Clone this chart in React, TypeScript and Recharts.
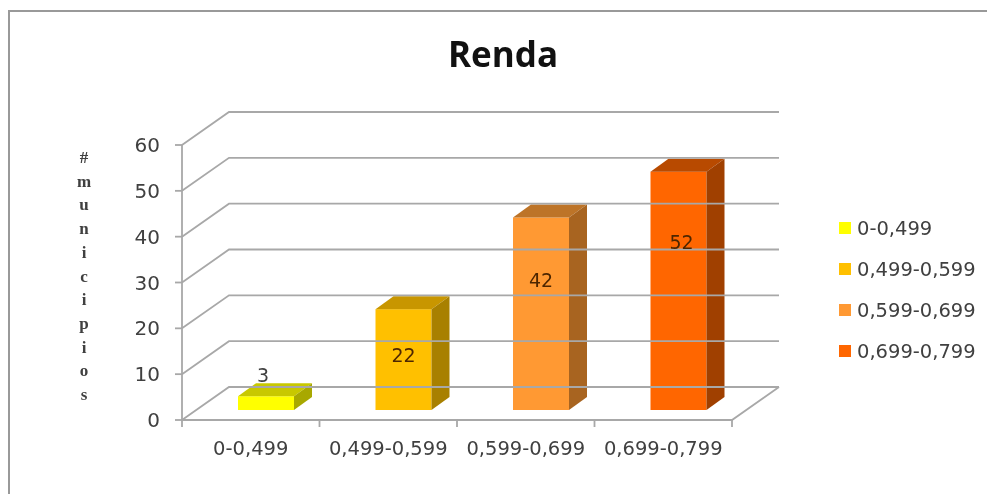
import React from 'react'
import { BarChart, Bar, XAxis, YAxis, ReferenceLine, LabelList } from 'recharts'

const categories = ['0-0,499', '0,499-0,599', '0,599-0,699', '0,699-0,799']
const counts = [3, 22, 42, 52]
const yTicks = [0, 10, 20, 30, 40, 50, 60]
const frontColors = ['#ffff00', '#ffc000', '#ff9933', '#ff6600']
const topColors = ['#c8c800', '#c89600', '#bd7428', '#b84a00']
const sideColors = ['#a8a800', '#a88000', '#a86420', '#a04000']
const yTitle = ['#', 'm', 'u', 'n', 'i', 'c', 'i', 'p', 'i', 'o', 's']

const data = categories.map((name, i) => ({ name, value: counts[i] }))

const GRID = '#a8a8a8'
const TEXT = '#404040'
const FONT = '"DejaVu Sans", sans-serif'
const WALL_DX = 47
const WALL_DY = 33
const BAND = 137.5
// the outer value labels sit a few pixels off the bar centres in the original
const LABEL_NUDGE = [-3, 0, 0, 3]

function BarShape3D(props: any) {
  const { x, y, width, height, index } = props
  const dx = 15
  const dy = -10
  const l = x + dx
  const r = l + width
  const t = y + dy
  const b = t + height
  const ox = 18
  const oy = 13
  return (
    <g>
      <rect x={l} y={t} width={width} height={height} fill={frontColors[index]} />
      <polygon points={`${l},${t} ${l + ox},${t - oy} ${r + ox},${t - oy} ${r},${t}`} fill={topColors[index]} />
      <polygon points={`${r},${t} ${r + ox},${t - oy} ${r + ox},${b - oy} ${r},${b}`} fill={sideColors[index]} />
    </g>
  )
}

function WallLine(props: any) {
  const { x1, y1, x2, y2 } = props
  const pts = `${x1},${y1} ${x1 + WALL_DX},${y1 - WALL_DY} ${x2 + WALL_DX},${y2 - WALL_DY}`
  return (
    <g>
      <polyline points={pts} fill="none" stroke={GRID} strokeWidth={1.8} />
      {y1 > 400 && (
        <polyline points={`${x1},${y1} ${x2},${y2} ${x2 + WALL_DX},${y2 - WALL_DY}`} fill="none" stroke={GRID} strokeWidth={1.8} />
      )}
    </g>
  )
}

function CategoryTick(props: any) {
  const { x, y, payload, index } = props
  return (
    <g>
      <line x1={x - BAND / 2} x2={x - BAND / 2} y1={y - 8} y2={y} stroke={GRID} strokeWidth={1.8} />
      {index === categories.length - 1 && (
        <line x1={x + BAND / 2} x2={x + BAND / 2} y1={y - 8} y2={y} stroke={GRID} strokeWidth={1.8} />
      )}
      <text x={x} y={y + 28} textAnchor="middle" fontSize={19.5} fontFamily={FONT} fill={TEXT}>
        {payload.value}
      </text>
    </g>
  )
}

function ValueLabel(props: any) {
  const { x, y, width, value, index } = props
  const cx = x + width / 2 + 15 + LABEL_NUDGE[index]
  // small bars carry the number above them, tall ones inside the face
  const ty = value < 5 ? y - 24 : y + 25 + value * 0.82
  return (
    <text x={cx} y={ty} textAnchor="middle" fontSize={19} fontFamily={FONT} fill={value < 5 ? TEXT : '#4d2600'}>
      {value}
    </text>
  )
}

function YTitle() {
  return (
    <text x={84} textAnchor="middle" fontSize={17} fontWeight="bold" fontFamily='"Liberation Serif", serif' fill={TEXT}>
      {yTitle.map((ch, i) => (
        <tspan key={i} x={84} y={163 + i * 23.7}>{ch}</tspan>
      ))}
    </text>
  )
}

function Legend4() {
  return (
    <g>
      {categories.map((name, i) => (
        <g key={name}>
          <rect x={839} y={222 + i * 41} width={12} height={12} fill={frontColors[i]} />
          <text x={857} y={235 + i * 41} fontSize={19.5} fontFamily={FONT} fill={TEXT}>{name}</text>
        </g>
      ))}
    </g>
  )
}

export default function App() {
  return (
    <div style={{ position: 'absolute', left: 0, top: 0, width: 987, height: 494, background: '#fff', overflow: 'hidden' }}>
      <div style={{ position: 'absolute', left: 8, top: 10, width: 979, height: 484, borderTop: '2px solid #999', borderLeft: '2px solid #999', boxSizing: 'border-box' }} />
      <div style={{ position: 'absolute', left: 0, top: 0, filter: 'blur(0.5px)' }}>
        <BarChart
          width={987}
          height={494}
          data={data}
          margin={{ top: 145, right: 255, bottom: 0, left: 122 }}
          barSize={56}
        >
          <XAxis
            dataKey="name"
            axisLine={false}
            tickLine={false}
            interval={0}
            height={74}
            tick={<CategoryTick />}
            tickMargin={0}
            tickSize={7}
          />
          <YAxis
            type="number"
            domain={[0, 60]}
            ticks={yTicks}
            width={60}
            axisLine={{ stroke: GRID, strokeWidth: 1.8 }}
            tickLine={{ stroke: GRID, strokeWidth: 1.8 }}
            tickSize={7}
            tickMargin={15}
            tick={{ fontSize: 20, fontFamily: FONT, fill: TEXT }}
          />
          {yTicks.map(t => (
            <ReferenceLine key={t} y={t} shape={<WallLine />} />
          ))}
          <Bar dataKey="value" isAnimationActive={false} shape={<BarShape3D />}>
            <LabelList dataKey="value" content={<ValueLabel />} />
          </Bar>
          <YTitle />
          <Legend4 />
          <text x={503} y={67} textAnchor="middle" fontSize={35} fontWeight={700} fontFamily='"Open Sans", sans-serif' fill="#111">
            Renda
          </text>
        </BarChart>
      </div>
    </div>
  )
}
